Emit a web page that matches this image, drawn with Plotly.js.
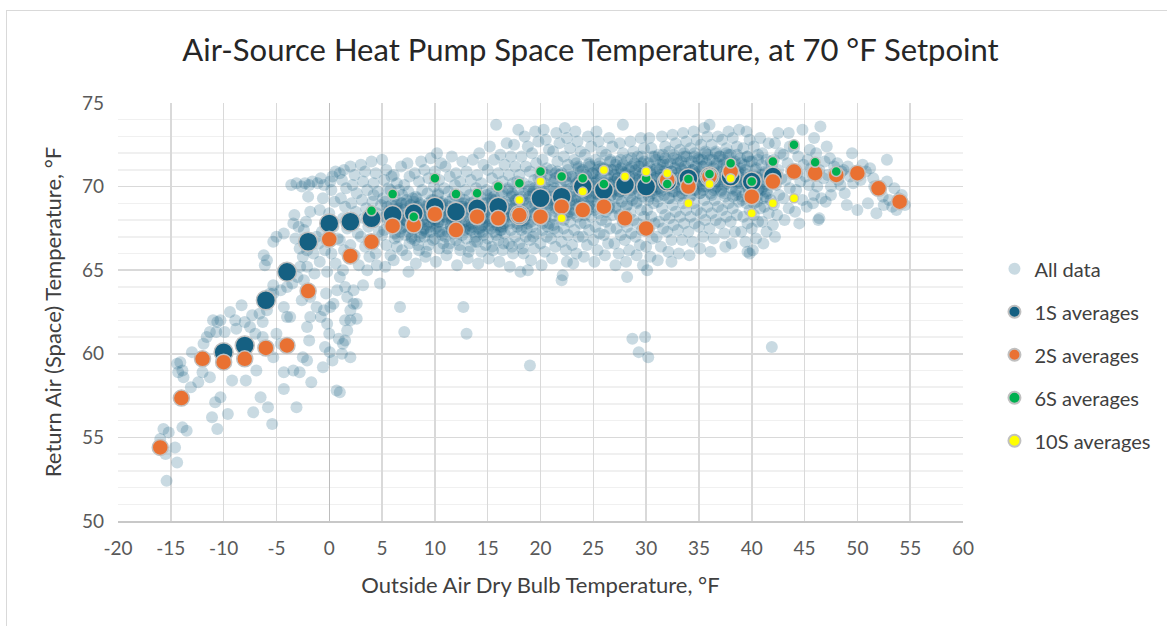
<!DOCTYPE html>
<html><head><meta charset="utf-8">
<script src="https://cdn.plot.ly/plotly-3.0.1.min.js"></script>
<style>
html,body{margin:0;padding:0;background:#fff;overflow:hidden;}
#chart{position:absolute;left:0;top:0;width:1167px;height:626px;}
#frame{position:absolute;left:6px;top:10px;width:1300px;height:800px;border-left:1px solid #d9d9d9;border-top:1px solid #d9d9d9;pointer-events:none;}
</style>
</head><body><div id="chart"></div><div id="frame"></div>
<script>
// All data points [outside air °F, return air °F]
const allDataPoints = [
[-15.4,52.4],[-15.7,55.5],[-15.2,55.3],[-14.6,54.4],[-14.4,53.5],[-13.9,55.6],[-13.5,55.4],[-16.0,54.9],[-15.5,54.0],
[-14.1,59.5],[-14.3,58.9],[-13.9,59.0],[-13.1,58.0],[-13.0,60.1],[-12.0,58.9],[-11.3,58.6],[-11.6,61.0],[-11.3,61.3],[-10.6,61.9],[-10.3,62.0],
[-11.1,56.2],[-10.6,55.5],[-10.3,57.4],[-10.8,57.1],[-9.6,56.4],[-9.9,61.3],[-9.4,62.5],[-8.9,62.0],[-8.3,62.9],[-9.2,58.4],[-7.9,58.4],
[-7.3,62.3],[-7.5,61.6],[-6.9,59.0],[-6.5,57.4],[-7.2,56.5],[-6.3,61.9],[-6.3,61.0],[-5.9,62.6],[-5.8,56.8],[-5.4,55.8],[-6.1,65.3],[-6.2,65.9],
[-5.9,65.6],[-5.3,66.7],[-5.0,67.0],[-4.3,67.2],[-3.4,67.8],[-2.9,67.6],[-5.3,64.1],[-5.6,63.6],[-4.3,62.8],[-4.0,62.2],[-3.7,62.2],[-5.0,61.2],
[-4.6,60.6],[-5.3,59.8],[-4.3,58.9],[-4.3,57.9],[-3.4,59.0],[-2.8,58.9],[-3.1,56.8],[-2.5,59.8],[-2.1,59.6],[-1.7,58.3],[-2.6,63.2],[-1.8,62.2],[-2.1,61.6],
[-14.4,59.4],[-13.8,58.6],[-11.9,60.6],[-11.0,62.0],[-10.7,61.3],[-8.8,61.5],[-8.0,61.9],[-7.0,61.2],[-6.6,62.4],[-12.4,58.3],
[-5.9,63.0],[-5.3,63.6],[-4.6,63.8],[-4.0,64.0],[-3.5,64.2],[-3.0,64.6],[-2.75,65.2],[-2.5,65.8],[-2.1,66.2],
[-3.2,66.9],[-2.8,66.3],[-3.6,70.1],[-3.1,70.2],[-2.6,70.0],[-2.4,67.4],[-3.3,68.3],
[-2.3,70.2],[-1.9,70.1],[-1.6,70.3],[-2.0,69.4],[-1.8,68.5],[-2.2,67.9],[-1.5,66.0],[-1.0,66.6],[-1.7,66.8],[-1.2,67.0],[-2.4,64.4],[-2.1,65.2],[-1.8,63.4],[-1.2,62.8],[-1.4,64.8],[-1.9,60.8],
[-1.1,70.2],[-0.8,70.5],[-0.5,70.1],[-0.6,69.3],[-0.9,68.6],[-0.3,67.9],[-0.7,67.3],[-0.4,66.2],[-0.9,65.5],[-0.2,64.9],[-0.5,62.6],[-0.8,62.2],[-0.2,61.8],[-0.4,60.4],[-0.6,59.2],[-0.3,63.6],
[0.1,70.3],[0.3,70.6],[0.6,70.9],[0.2,69.8],[0.5,69.1],[0.0,68.4],[0.4,67.6],[0.8,66.9],[0.2,66.0],[0.6,65.4],[0.1,62.8],[0.4,63.0],[0.75,63.8],[0.0,61.2],[0.05,60.1],[0.9,60.9],[0.3,59.6],[0.7,57.8],
[1.0,70.8],[1.4,71.0],[1.2,70.4],[1.6,69.9],[1.1,69.3],[1.5,68.8],[1.3,68.1],[1.7,67.5],[1.0,66.8],[1.4,66.2],[1.0,64.6],[1.3,65.0],[1.7,63.4],[1.5,64.0],[1.5,62.0],[1.7,61.4],[1.3,60.6],[1.5,60.8],[1.2,60.0],[1.0,57.7],
[2.0,71.2],[2.4,70.7],[2.2,70.1],[2.6,69.6],[2.1,69.0],[2.5,68.5],[2.3,67.8],[2.7,67.2],[2.0,66.5],[2.4,65.9],[2.8,65.3],[2.3,63.8],[2.6,63.0],[2.0,62.0],[2.0,59.8],[2.6,62.1],[2.3,63.0],[2.0,62.6],
[3.0,71.3],[3.4,70.9],[3.2,70.3],[3.6,69.8],[3.1,69.2],[3.5,68.7],[3.3,68.1],[3.7,67.6],[3.0,67.0],[3.4,66.4],[3.8,65.8],[3.2,64.1],[3.6,65.0],
[4.0,71.5],[4.4,70.8],[4.2,70.2],[4.6,69.7],[4.1,69.1],[4.5,68.4],[4.3,67.9],[4.7,67.3],[4.0,66.7],[4.4,66.0],[4.8,64.2],[4.5,65.3],[4.9,68.9],[4.2,69.5],
[5.0,71.6],[5.4,71.0],[5.2,70.4],[5.6,69.9],[5.1,69.3],[5.5,68.8],[5.3,68.2],[5.7,67.7],[5.0,67.1],[5.4,66.5],[5.8,65.9],[5.3,65.2],[5.9,70.6],[5.6,68.5],
[6.1,65.6],[6.4,66.4],[6.2,66.9],[6.7,67.3],[6.3,67.7],[6.8,68.0],[6.0,68.4],[6.5,68.7],[6.9,69.0],[6.2,69.4],[6.6,69.8],[6.4,70.2],[6.1,70.7],[6.8,71.2],[6.7,62.8],[6.5,67.0],[6.3,68.9],[6.9,66.2],
[7.1,61.3],[7.3,65.9],[7.6,66.6],[7.2,67.1],[7.8,67.5],[7.4,67.9],[7.0,68.3],[7.7,68.6],[7.3,69.0],[7.9,69.3],[7.5,69.7],[7.1,70.1],[7.6,70.6],[7.4,71.4],[7.8,66.9],[7.2,68.0],[7.9,67.8],[7.5,64.9],
[8.2,65.4],[8.5,66.2],[8.1,66.8],[8.7,67.2],[8.3,67.6],[8.9,67.9],[8.4,68.2],[8.0,68.6],[8.6,69.0],[8.2,69.4],[8.8,69.8],[8.5,70.3],[8.1,70.8],[8.7,71.5],[8.4,66.5],[8.9,67.4],[8.3,68.8],[8.6,67.0],
[9.1,65.8],[9.4,66.5],[9.0,67.0],[9.6,67.3],[9.2,67.7],[9.8,68.1],[9.5,68.4],[9.1,68.8],[9.7,69.2],[9.3,69.6],[9.9,70.0],[9.4,70.5],[9.0,71.0],[9.6,71.7],[9.2,66.1],[9.8,66.8],[9.5,67.9],[9.3,68.3],
[10.1,65.5],[10.4,66.3],[10.0,66.9],[10.6,67.3],[10.2,67.6],[10.8,68.0],[10.5,68.3],[10.1,68.7],[10.7,69.1],[10.3,69.5],[10.9,69.9],[10.4,70.4],[10.0,70.9],[10.6,71.4],[10.2,72.0],[10.8,66.6],[10.3,67.9],[10.7,67.1],[10.5,69.0],
[11.1,65.9],[11.4,66.6],[11.0,67.0],[11.6,67.4],[11.2,67.8],[11.8,68.1],[11.5,68.5],[11.1,68.9],[11.7,69.3],[11.3,69.7],[11.9,70.1],[11.4,70.6],[11.0,71.2],[11.6,71.8],[11.2,66.3],[11.8,67.2],[11.5,67.7],[11.3,68.3],
[12.1,65.3],[12.4,66.2],[12.0,66.8],[12.6,67.1],[12.2,67.5],[12.8,67.9],[12.5,68.2],[12.1,68.6],[12.7,69.0],[12.3,69.4],[12.9,69.8],[12.4,70.3],[12.0,70.8],[12.6,71.5],[12.7,62.8],[13.0,61.2],[12.3,66.5],[12.8,67.4],[12.5,68.8],
[13.1,65.7],[13.4,66.4],[13.0,66.9],[13.6,67.3],[13.2,67.7],[13.8,68.0],[13.5,68.4],[13.1,68.7],[13.7,69.1],[13.3,69.5],[13.9,69.9],[13.4,70.4],[13.0,70.9],[13.6,71.6],[13.2,66.1],[13.8,66.7],[13.5,67.6],[13.3,68.2],
[14.1,65.4],[14.4,66.1],[14.0,66.7],[14.6,67.1],[14.2,67.5],[14.8,67.9],[14.5,68.2],[14.1,68.6],[14.7,69.0],[14.3,69.4],[14.9,69.8],[14.4,70.2],[14.0,70.7],[14.6,71.3],[14.2,72.0],[14.8,66.5],[14.5,67.3],[14.3,68.0],[14.7,68.5],
[15.1,65.7],[15.4,66.4],[15.0,66.9],[15.6,67.3],[15.2,67.7],[15.8,68.0],[15.5,68.4],[15.1,68.8],[15.7,69.2],[15.3,69.6],[15.9,70.0],[15.4,70.5],[15.0,71.0],[15.6,71.6],[15.2,72.4],[15.8,73.7],[15.5,66.2],[15.3,67.5],[15.9,68.6],[15.6,69.4],
[16.1,65.5],[16.4,66.2],[16.0,66.8],[16.6,67.2],[16.2,67.6],[16.8,67.9],[16.5,68.3],[16.1,68.7],[16.7,69.1],[16.3,69.5],[16.9,69.9],[16.4,70.3],[16.0,70.8],[16.6,71.3],[16.2,71.9],[16.8,72.6],[16.5,66.6],[16.3,67.4],[16.7,68.5],[16.4,69.7],
[17.1,65.2],[17.4,66.0],[17.0,66.6],[17.6,67.0],[17.2,67.4],[17.8,67.8],[17.5,68.2],[17.1,68.6],[17.7,69.0],[17.3,69.4],[17.9,69.8],[17.4,70.2],[17.0,70.7],[17.6,71.2],[17.2,71.8],[17.9,73.4],[17.5,72.5],[17.3,66.4],[17.8,67.6],[17.6,69.2],
[18.1,64.9],[18.8,65.0],[18.4,66.0],[18.0,66.6],[18.6,67.0],[18.2,67.4],[18.8,67.8],[18.5,68.2],[18.1,68.6],[18.7,69.0],[18.3,69.4],[18.9,69.8],[18.4,70.2],[18.0,70.7],[18.6,71.2],[18.2,71.8],[18.8,72.4],[18.5,73.0],[18.3,66.3],[18.7,67.5],[18.4,69.6],
[19.0,59.3],[19.1,65.6],[19.4,66.3],[19.0,66.8],[19.6,67.2],[19.2,67.6],[19.8,68.0],[19.5,68.4],[19.1,68.8],[19.7,69.2],[19.3,69.6],[19.9,70.0],[19.4,70.4],[19.0,70.9],[19.6,71.4],[19.2,72.0],[19.8,72.7],[19.5,73.3],[19.3,67.0],[19.7,68.6],[19.4,69.9],
[20.1,65.3],[20.4,66.1],[20.0,66.6],[20.6,67.0],[20.2,67.4],[20.8,67.8],[20.5,68.2],[20.1,68.6],[20.7,69.0],[20.3,69.4],[20.9,69.8],[20.4,70.2],[20.0,70.6],[20.6,71.1],[20.2,71.6],[20.8,72.2],[20.5,72.8],[20.3,73.4],[20.7,67.6],[20.4,69.2],[20.2,70.9],
[21.1,65.7],[21.4,66.4],[21.0,66.9],[21.6,67.3],[21.2,67.7],[21.8,68.1],[21.5,68.5],[21.1,68.9],[21.7,69.3],[21.3,69.7],[21.9,70.1],[21.4,70.5],[21.0,71.0],[21.6,71.5],[21.2,72.1],[21.8,72.6],[21.5,73.2],[21.3,67.5],[21.7,68.7],[21.4,70.8],
[22.0,64.4],[22.1,64.7],[22.5,65.5],[22.4,66.2],[22.0,66.7],[22.6,67.1],[22.2,67.5],[22.8,67.9],[22.5,68.3],[22.1,68.7],[22.7,69.1],[22.3,69.5],[22.9,69.9],[22.4,70.3],[22.0,70.8],[22.6,71.3],[22.2,71.8],[22.8,72.3],[22.5,72.9],[22.3,73.5],[22.7,68.5],[22.4,70.6],
[23.1,65.4],[23.4,66.0],[23.0,66.5],[23.6,67.0],[23.2,67.4],[23.8,67.8],[23.5,68.2],[23.1,68.6],[23.7,69.0],[23.3,69.4],[23.9,69.8],[23.4,70.2],[23.0,70.6],[23.6,71.1],[23.2,71.6],[23.8,72.1],[23.5,72.7],[23.3,73.3],[23.7,70.4],[23.4,71.4],[23.6,68.8],
[24.1,65.8],[24.4,66.5],[24.0,67.0],[24.6,67.4],[24.2,67.8],[24.8,68.2],[24.5,68.6],[24.1,69.0],[24.7,69.4],[24.3,69.8],[24.9,70.2],[24.4,70.6],[24.0,71.0],[24.6,71.4],[24.2,71.9],[24.8,72.4],[24.5,73.0],[24.3,70.4],[24.7,71.2],[24.4,69.6],[24.6,68.9],
[25.1,65.5],[25.4,66.2],[25.0,66.8],[25.6,67.2],[25.2,67.6],[25.8,68.0],[25.5,68.4],[25.1,68.8],[25.7,69.2],[25.3,69.6],[25.9,70.0],[25.4,70.4],[25.0,70.8],[25.6,71.2],[25.2,71.6],[25.8,72.1],[25.5,72.7],[25.3,73.3],[25.7,70.6],[25.4,71.0],[25.6,69.8],[25.2,70.2],
[26.1,65.9],[26.4,66.6],[26.0,67.1],[26.6,67.5],[26.2,67.9],[26.8,68.3],[26.5,68.7],[26.1,69.1],[26.7,69.5],[26.3,69.9],[26.9,70.3],[26.4,70.7],[26.0,71.1],[26.6,71.5],[26.2,71.9],[26.8,72.4],[26.5,72.9],[26.3,70.5],[26.7,71.0],[26.4,69.7],[26.6,70.1],
[27.1,65.3],[27.4,66.0],[27.0,66.6],[27.6,67.1],[27.2,67.5],[27.8,67.9],[27.5,68.3],[27.1,68.7],[27.7,69.1],[27.3,69.5],[27.9,69.9],[27.4,70.3],[27.0,70.7],[27.6,71.1],[27.2,71.5],[27.8,72.0],[27.5,72.6],[27.8,73.7],[27.3,70.5],[27.7,70.9],[27.5,69.7],[27.1,71.3],
[28.7,60.9],[28.2,64.6],[28.1,65.5],[28.4,66.2],[28.0,66.8],[28.6,67.2],[28.2,67.6],[28.8,68.0],[28.5,68.4],[28.1,68.8],[28.7,69.2],[28.3,69.6],[28.9,70.0],[28.4,70.4],[28.0,70.8],[28.6,71.2],[28.2,71.6],[28.8,72.1],[28.5,72.7],[28.3,70.2],[28.7,70.6],[28.4,71.0],
[29.9,61.0],[29.3,60.1],[29.7,65.3],[29.1,65.9],[29.4,66.5],[29.0,67.0],[29.6,67.4],[29.2,67.8],[29.8,68.2],[29.5,68.6],[29.1,69.0],[29.7,69.4],[29.3,69.8],[29.9,70.2],[29.4,70.6],[29.0,71.0],[29.6,71.4],[29.2,71.8],[29.8,72.3],[29.5,72.9],[29.3,70.4],[29.7,70.8],[29.4,71.2],
[30.2,59.8],[30.1,65.0],[30.4,65.8],[30.0,66.4],[30.6,66.9],[30.2,67.4],[30.8,67.8],[30.5,68.2],[30.1,68.6],[30.7,69.0],[30.3,69.4],[30.9,69.8],[30.4,70.2],[30.0,70.6],[30.6,71.0],[30.2,71.4],[30.8,71.8],[30.5,72.3],[30.3,72.9],[30.7,70.4],[30.4,70.8],[30.6,69.6],
[31.1,65.6],[31.4,66.4],[31.0,67.0],[31.6,67.5],[31.2,67.9],[31.8,68.3],[31.5,68.7],[31.1,69.1],[31.7,69.5],[31.3,69.9],[31.9,70.3],[31.4,70.7],[31.0,71.1],[31.6,71.5],[31.2,71.9],[31.8,72.4],[31.5,73.0],[31.3,70.5],[31.7,70.9],[31.4,69.7],[31.6,71.3],
[32.4,65.5],[32.1,66.1],[32.4,66.8],[32.0,67.3],[32.6,67.7],[32.2,68.1],[32.8,68.5],[32.5,68.9],[32.1,69.3],[32.7,69.7],[32.3,70.1],[32.9,70.5],[32.4,70.9],[32.0,71.3],[32.6,71.7],[32.2,72.1],[32.8,72.6],[32.5,73.1],[32.3,70.3],[32.7,71.1],[32.4,69.9],
[33.1,66.0],[33.4,66.8],[33.0,67.4],[33.6,67.8],[33.2,68.2],[33.8,68.6],[33.5,69.0],[33.1,69.4],[33.7,69.8],[33.3,70.2],[33.9,70.6],[33.4,71.0],[33.0,71.4],[33.6,71.8],[33.2,72.2],[33.8,72.7],[33.5,73.2],[33.3,70.4],[33.7,71.2],[33.4,69.6],[33.6,70.8],
[34.1,65.9],[34.4,66.7],[34.0,67.3],[34.6,67.8],[34.2,68.2],[34.8,68.6],[34.5,69.0],[34.1,69.4],[34.7,69.8],[34.3,70.2],[34.9,70.6],[34.4,71.0],[34.0,71.4],[34.6,71.8],[34.2,72.3],[34.8,72.8],[34.5,73.3],[34.3,70.4],[34.7,71.2],[34.4,70.0],[34.6,70.8],
[35.1,66.3],[35.4,67.0],[35.0,67.6],[35.6,68.0],[35.2,68.4],[35.8,68.8],[35.5,69.2],[35.1,69.6],[35.7,70.0],[35.3,70.4],[35.9,70.8],[35.4,71.2],[35.0,71.6],[35.6,72.0],[35.2,72.5],[35.8,73.0],[35.5,73.5],[35.3,70.6],[35.7,71.4],[35.4,69.8],[35.6,70.2],
[36.1,66.1],[36.4,66.9],[36.0,67.5],[36.6,68.0],[36.2,68.4],[36.8,68.8],[36.5,69.2],[36.1,69.6],[36.7,70.0],[36.3,70.4],[36.9,70.8],[36.4,71.2],[36.0,71.6],[36.6,72.0],[36.2,72.5],[36.0,73.7],[36.8,73.0],[36.3,70.6],[36.7,71.4],[36.5,70.2],[36.4,69.8],
[37.5,66.4],[37.4,67.2],[37.0,67.8],[37.6,68.2],[37.2,68.6],[37.8,69.0],[37.5,69.4],[37.1,69.8],[37.7,70.2],[37.3,70.6],[37.9,71.0],[37.4,71.4],[37.0,71.8],[37.6,72.3],[37.2,72.8],[37.8,73.3],[37.3,70.4],[37.7,70.8],[37.4,69.6],[37.6,71.2],
[38.1,66.6],[38.4,67.3],[38.0,67.9],[38.6,68.3],[38.2,68.7],[38.8,69.1],[38.5,69.5],[38.1,69.9],[38.7,70.3],[38.3,70.7],[38.9,71.1],[38.4,71.5],[38.0,71.9],[38.6,72.4],[38.2,72.9],[38.8,73.4],[38.3,70.5],[38.7,70.9],[38.5,69.7],
[39.8,66.0],[39.4,66.7],[39.0,67.3],[39.6,67.8],[39.2,68.2],[39.8,68.6],[39.5,69.0],[39.1,69.4],[39.7,69.8],[39.3,70.2],[39.9,70.6],[39.4,71.0],[39.0,71.4],[39.6,71.8],[39.2,72.3],[39.8,72.8],[39.5,73.3],[39.3,70.4],[39.6,70.0],[39.6,66.1],
[40.1,66.2],[40.4,66.9],[40.0,67.5],[40.6,67.9],[40.2,68.3],[40.8,68.7],[40.5,69.1],[40.1,69.5],[40.7,69.9],[40.3,70.3],[40.9,70.7],[40.4,71.1],[40.0,71.5],[40.6,71.9],[40.2,72.4],[40.8,72.9],[40.3,70.1],[40.6,70.5],
[41.1,66.6],[41.4,67.3],[41.0,67.9],[41.6,68.4],[41.2,68.8],[41.8,69.2],[41.5,69.6],[41.1,70.0],[41.7,70.4],[41.3,70.8],[41.9,71.2],[41.4,71.6],[41.0,72.0],[41.6,72.6],[41.9,60.4],[41.3,69.4],[41.6,70.6],
[42.0,67.7],[42.2,67.0],[42.4,68.3],[42.1,68.9],[42.6,69.5],[42.3,70.1],[42.8,70.5],[42.5,71.0],[42.1,71.6],[42.7,72.0],[42.5,73.2],[42.2,72.6],
[43.1,68.0],[43.5,68.7],[43.0,69.3],[43.6,69.9],[43.2,70.4],[43.8,70.9],[43.4,71.4],[43.0,71.9],[43.6,72.4],[43.5,73.2],
[44.1,68.5],[44.5,67.8],[44.8,69.2],[44.2,69.8],[44.6,70.3],[44.3,70.8],[44.9,71.3],[44.4,71.8],[44.8,73.4],[44.0,72.3],
[45.2,68.8],[45.8,69.0],[45.9,69.5],[45.4,70.1],[45.1,70.6],[45.6,71.1],[45.3,71.6],[45.9,72.9],[45.5,72.2],
[46.4,68.1],[46.3,68.0],[46.6,69.3],[46.2,70.0],[46.8,70.5],[46.4,71.0],[46.9,71.5],[46.5,73.6],[46.1,72.0],
[47.1,72.4],[47.5,69.5],[47.5,70.0],[47.2,70.7],[47.8,71.2],[47.4,71.7],[47.0,69.1],
[48.2,70.4],[48.5,70.9],[48.1,71.4],[48.7,71.0],[48.4,70.1],[48.8,69.6],[49.0,68.9],[49.3,70.6],[49.5,72.0],[49.1,71.2],[49.6,70.2],
[50.0,68.6],[50.2,70.8],[50.5,71.3],[50.3,70.4],[50.8,70.9],[51.0,69.0],[51.2,71.1],[51.5,70.5],[51.8,68.4],[51.6,70.0],
[52.1,69.8],[52.5,68.9],[52.8,71.6],[52.4,69.4],[53.0,69.2],[53.3,68.8],[53.7,68.6],[53.5,69.9],[52.8,70.3],[54.2,69.5],[54.5,68.9],[53.9,69.3],
// dense core of the cloud
[5.2,67.4],[5.6,68.3],[5.3,69.1],[5.8,69.8],[6.2,67.2],[6.6,68.1],[6.4,68.6],[6.9,69.5],[7.1,67.6],[7.5,68.4],[7.3,69.2],[7.8,67.0],
[8.1,67.5],[8.5,68.5],[8.3,69.3],[8.8,68.0],[9.2,67.3],[9.6,68.2],[9.4,69.0],[9.9,67.8],[10.1,67.5],[10.5,68.6],[10.3,69.6],[10.8,68.2],
[11.2,67.3],[11.6,68.0],[11.4,68.8],[11.9,69.5],[12.1,67.2],[12.5,67.8],[12.3,68.5],[12.8,69.2],[13.2,67.5],[13.6,68.3],[13.4,69.0],[13.9,67.0],
[14.2,67.3],[14.6,68.1],[14.4,68.8],[14.9,69.5],[15.1,67.6],[15.5,68.5],[15.3,69.3],[15.8,67.1],[16.2,67.4],[16.6,68.2],[16.4,69.0],[16.9,69.8],
[17.1,67.8],[17.5,68.7],[17.3,69.6],[17.8,70.3],[18.2,67.6],[18.6,68.4],[18.4,69.2],[18.9,70.0],[19.1,67.9],[19.5,68.9],[19.3,69.7],[19.8,70.5],
[20.2,67.8],[20.6,68.8],[20.4,69.6],[20.9,70.4],[21.1,68.2],[21.5,69.1],[21.3,69.9],[21.8,70.7],[22.2,68.0],[22.6,68.9],[22.4,69.8],[22.9,70.6],
[23.1,68.4],[23.5,69.3],[23.3,70.1],[23.8,70.9],[24.2,68.3],[24.6,69.2],[24.4,70.0],[24.9,70.8],[25.1,68.6],[25.5,69.5],[25.3,70.3],[25.8,71.1],
[26.2,68.5],[26.6,69.4],[26.4,70.2],[26.9,71.0],[27.1,68.8],[27.5,69.7],[27.3,70.5],[27.8,71.3],[28.2,68.9],[28.6,69.8],[28.4,70.6],[28.9,71.4],
[29.1,69.1],[29.5,70.0],[29.3,70.8],[29.8,71.5],[30.2,69.2],[30.6,70.1],[30.4,70.9],[30.9,71.6],[31.1,69.4],[31.5,70.2],[31.3,71.0],[31.8,71.7],
[32.2,69.3],[32.6,70.1],[32.4,70.9],[32.9,71.6],[33.1,69.5],[33.5,70.3],[33.3,71.1],[33.8,71.8],[34.2,69.4],[34.6,70.2],[34.4,71.0],[34.9,71.7],
[35.1,69.6],[35.5,70.4],[35.3,71.2],[35.8,71.9],[36.2,69.5],[36.6,70.3],[36.4,71.1],[36.9,71.8],[37.1,69.7],[37.5,70.5],[37.3,71.3],[37.8,71.9],
[38.2,69.4],[38.6,70.2],[38.4,71.0],[38.9,71.7],[39.1,69.2],[39.5,70.0],[39.3,70.8],[39.8,71.5],[40.2,69.0],[40.6,69.8],[40.4,70.6],[40.9,71.3],
[41.1,69.3],[41.5,70.1],[41.3,70.9],[41.8,71.5],
[5.5,68.0],[5.9,68.9],[6.5,67.7],[6.8,69.0],[7.4,67.9],[7.7,68.9],[8.4,67.9],[8.7,68.9],[9.5,67.6],[9.8,68.7],[10.4,67.9],[10.7,69.0],
[11.5,67.6],[11.8,68.5],[12.4,67.5],[12.7,68.8],[13.5,67.8],[13.8,68.7],[14.5,67.7],[14.8,68.5],[15.4,67.9],[15.7,68.9],[16.5,67.8],[16.8,68.7],
[17.4,68.3],[17.7,69.2],[18.5,68.0],[18.8,69.0],[19.4,68.4],[19.7,69.3],[20.5,68.3],[20.8,69.2],[21.4,68.7],[21.7,69.6],[22.5,68.5],[22.8,69.4],
[23.4,68.9],[23.7,69.7],[24.5,68.8],[24.8,69.6],[25.4,69.1],[25.7,69.9],[26.5,68.9],[26.8,69.8],[27.4,69.3],[27.7,70.1],[28.5,69.4],[28.8,70.2],
[29.4,69.6],[29.7,70.4],[30.5,69.7],[30.8,70.5],[31.4,69.8],[31.7,70.6],[32.5,69.7],[32.8,70.5],[33.4,69.9],[33.7,70.7],[34.5,69.8],[34.8,70.6],
[35.4,70.0],[35.7,70.8],[36.5,69.9],[36.8,70.7],[37.4,70.1],[37.7,70.9],[38.5,69.8],[38.8,70.6],[39.4,69.6],[39.7,70.4],[40.5,69.4],[40.8,70.2],
[41.4,69.7],[41.7,70.5],
[6.0,67.9],[6.4,68.9],[6.8,67.5],[7.0,68.6],[7.5,67.3],[7.9,68.3],[8.0,69.1],[8.5,67.8],[8.9,68.6],[9.0,67.5],[9.4,68.5],[9.9,69.2],
[10.0,68.0],[10.4,67.3],[10.9,68.6],[11.0,68.2],[11.4,69.1],[11.9,67.8],[12.0,68.0],[12.5,69.0],[12.9,67.6],[13.0,68.4],[13.4,67.4],[13.9,68.9],
[14.0,68.3],[14.4,67.6],[14.9,69.0],[15.0,68.1],[15.4,69.2],[15.9,67.7],[16.0,68.5],[16.4,67.6],[16.9,68.9],[17.0,68.2],[17.4,69.5],[17.9,68.0],
[18.0,69.0],[18.4,68.0],[18.9,69.4],[19.0,68.3],[19.4,69.5],[19.9,68.7],
[20.0,69.2],[20.3,70.0],[20.6,70.7],[20.9,68.9],[21.0,69.4],[21.3,70.3],[21.6,70.9],[21.9,69.0],[22.0,69.6],[22.3,70.4],[22.6,71.0],[22.9,69.2],
[23.0,69.7],[23.3,70.5],[23.6,71.2],[23.9,69.3],[24.0,69.9],[24.3,70.7],[24.6,71.3],[24.9,69.4],[25.0,70.0],[25.3,70.8],[25.6,71.4],[25.9,69.6],
[26.0,70.2],[26.3,71.0],[26.6,71.6],[26.9,69.7],[27.0,70.3],[27.3,71.0],[27.6,71.6],[27.9,69.8],[28.0,70.4],[28.3,71.1],[28.6,71.7],[28.9,69.9],
[29.0,70.5],[29.3,71.2],[29.6,71.8],[29.9,70.0],[30.0,70.5],[30.3,71.2],[30.6,71.8],[30.9,70.0],[31.0,70.6],[31.3,71.3],[31.6,71.9],[31.9,70.1],
[32.0,70.7],[32.3,71.4],[32.6,71.9],[32.9,70.2],[33.0,70.8],[33.3,71.5],[33.6,72.0],[33.9,70.3],[34.0,70.8],[34.3,71.5],[34.6,72.0],[34.9,70.3],
[35.0,70.9],[35.3,71.6],[35.6,72.1],[35.9,70.4],[36.0,70.9],[36.3,71.6],[36.6,72.1],[36.9,70.4],[37.0,70.9],[37.3,71.6],[37.6,72.0],[37.9,70.3],
[38.0,70.8],[38.3,71.4],[38.6,71.9],[38.9,70.2],[39.0,70.7],[39.3,71.3],[39.6,71.8],[39.9,70.0],[40.0,70.4],[40.3,71.0],[40.6,71.6],[40.9,69.8]
];

const s1X = [-10,-8,-6,-4,-2,0,2,4,6,8,10,12,14,16,18,20,22,24,26,28,30,32,34,36,38,40,42];
const s1Y = [60.1,60.5,63.2,64.9,66.7,67.8,67.9,68.1,68.3,68.4,68.8,68.5,68.7,68.8,68.3,69.3,69.4,70.0,69.8,70.1,70.0,70.3,70.5,70.6,70.6,70.3,70.6];

const s2X = [-16,-14,-12,-10,-8,-6,-4,-2,0,2,4,6,8,10,12,14,16,18,20,22,24,26,28,30,32,34,36,38,40,42,44,46,48,50,52,54];
const s2Y = [54.4,57.35,59.7,59.5,59.7,60.35,60.5,63.75,66.85,65.85,66.7,67.65,67.7,68.35,67.4,68.2,68.1,68.3,68.2,68.8,68.6,68.8,68.1,67.5,70.4,70.0,70.6,70.9,69.4,70.3,70.9,70.8,70.7,70.8,69.9,69.1];

const s6X = [4,6,8,10,12,14,16,18,20,22,24,26,30,32,34,36,38,40,42,44,46,48];
const s6Y = [68.55,69.55,68.2,70.5,69.55,69.6,70.0,70.2,70.9,70.6,70.5,70.15,70.5,70.15,70.45,70.75,71.4,70.3,71.5,72.5,71.45,70.9];

const s10X = [18,20,22,24,26,28,30,32,34,36,38,40,42,44];
const s10Y = [69.2,70.3,68.1,69.7,71.0,70.6,70.9,70.8,69.0,70.15,70.5,68.4,69.0,69.3];

const seriesNames = ['All data','1S averages','2S averages','6S averages','10S averages'];
const xTickVals = [-20,-15,-10,-5,0,5,10,15,20,25,30,35,40,45,50,55,60];
const yTickVals = [50,55,60,65,70,75];

const FONT = 'Lato, "Open Sans", sans-serif';
const ring = {color:'#c0c0c0', width:1.5};

const traces = [
  {type:'scatter', mode:'markers', name:seriesNames[0], legendgroup:'g0',
   x: allDataPoints.map(p=>p[0]), y: allDataPoints.map(p=>p[1]),
   marker:{size:12, color:'rgba(21,96,130,0.23)', line:{width:0}}},
  {type:'scatter', mode:'markers', name:seriesNames[1], legendgroup:'g1', x:s1X, y:s1Y,
   marker:{size:19, color:'#156082', line:ring}},
  {type:'scatter', mode:'markers', name:seriesNames[2], legendgroup:'g2', x:s2X, y:s2Y,
   marker:{size:16, color:'#E97132', line:ring}},
  {type:'scatter', mode:'markers', name:seriesNames[3], legendgroup:'g3', x:s6X, y:s6Y,
   marker:{size:10, color:'#00B050', line:ring}},
  {type:'scatter', mode:'markers', name:seriesNames[4], legendgroup:'g4', x:s10X, y:s10Y,
   marker:{size:9, color:'#FFFF00', line:ring}}
];

const layout = {
  width:1167, height:626,
  paper_bgcolor:'#ffffff', plot_bgcolor:'#ffffff',
  margin:{l:118, r:203, t:103, b:105, pad:0},
  font:{family:FONT, color:'#595959', size:19},
  title:{text:'Air-Source Heat Pump Space Temperature, at 70 °F Setpoint',
         font:{family:FONT, size:31, color:'#262626'},
         xref:'container', x:0.506, xanchor:'center', yref:'container', y:0.92, yanchor:'middle'},
  xaxis:{range:[-20,60], tickvals:xTickVals, ticktext:xTickVals.map(String),
         showgrid:true, gridcolor:'#d9d9d9', gridwidth:1.5,
         zeroline:true, zerolinecolor:'#bdbdbd', zerolinewidth:1.5,
         showline:true, linecolor:'#c8c8c8', linewidth:1.5, mirror:false,
         ticks:'', ticklabelstandoff:10,
         tickfont:{size:19, color:'#595959', family:FONT},
         title:{text:'Outside Air Dry Bulb Temperature, °F', font:{size:22, color:'#404040', family:FONT}, standoff:19}},
  yaxis:{range:[50,75], tickvals:yTickVals, ticktext:yTickVals.map(String),
         showgrid:true, gridcolor:'#d9d9d9', gridwidth:1.5,
         minor:{dtick:1, showgrid:true, gridcolor:'#f0f0f0', gridwidth:1.5},
         zeroline:false, showline:false,
         ticks:'', ticklabelstandoff:13,
         tickfont:{size:19, color:'#595959', family:FONT},
         title:{text:'Return Air (Space) Temperature, °F', font:{size:22, color:'#404040', family:FONT}, standoff:14}},
  legend:{x:1.036, xanchor:'left', y:0.65, yanchor:'top', traceorder:'grouped',
          tracegroupgap:14, itemsizing:'constant',
          font:{size:20, color:'#404040', family:FONT}, bgcolor:'rgba(0,0,0,0)'},
  showlegend:true
};

Plotly.newPlot('chart', traces, layout, {displayModeBar:false, staticPlot:true});
</script></body></html>
